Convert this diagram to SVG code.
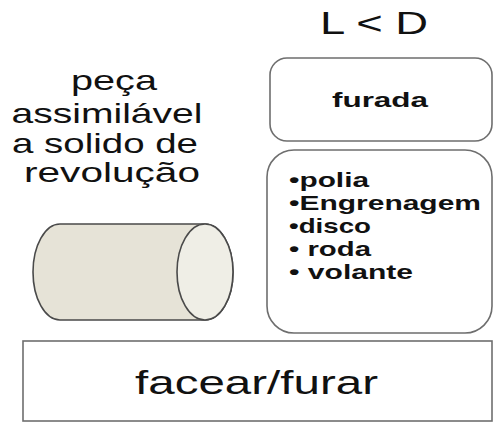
<svg xmlns="http://www.w3.org/2000/svg" width="493" height="422" viewBox="0 0 493 422">
  <style>
    .box { fill: #ffffff; stroke: #6e6e6e; stroke-width: 1.6; }
    .t { font-family: "Liberation Sans", Arial, sans-serif; fill: #111111; }
    .b { font-weight: bold; }
    .mid { text-anchor: middle; }
    .solid { stroke: #4a4a4a; stroke-width: 1.6; }
  </style>
  <rect width="493" height="422" fill="#ffffff"/>

  <!-- heading -->
  <g id="title">
    <text class="t" x="320" y="34" font-size="31" textLength="108" lengthAdjust="spacingAndGlyphs">L &lt; D</text>
  </g>

  <!-- caption on the left -->
  <g id="caption">
    <text class="t mid" x="114" y="90" font-size="28" textLength="86" lengthAdjust="spacingAndGlyphs">peça</text>
    <text class="t mid" x="107" y="123" font-size="28" textLength="191" lengthAdjust="spacingAndGlyphs">assimilável</text>
    <text class="t mid" x="105" y="153" font-size="28" textLength="186" lengthAdjust="spacingAndGlyphs">a solido de</text>
    <text class="t mid" x="112" y="182" font-size="28" textLength="176" lengthAdjust="spacingAndGlyphs">revolução</text>
  </g>

  <!-- solid of revolution -->
  <g id="cylinder">
    <path class="solid" fill="#e6e3d7" d="M60,224 L205,224 A28,48 0 0 1 205,320 L60,320 A27,48 0 0 1 60,224 Z"/>
    <ellipse class="solid" fill="#efeee6" cx="205" cy="272" rx="28" ry="48"/>
  </g>

  <!-- "furada" box -->
  <g id="furada">
    <rect class="box" x="270" y="58" width="222" height="83" rx="17" ry="17"/>
    <text class="t b" x="332" y="107" font-size="21" textLength="96" lengthAdjust="spacingAndGlyphs">furada</text>
  </g>

  <!-- list of parts -->
  <g id="examples">
    <rect class="box" x="267" y="150" width="225" height="183" rx="27" ry="27"/>
    <text class="t b" x="289" y="187" font-size="21" textLength="80" lengthAdjust="spacingAndGlyphs">•polia</text>
    <text class="t b" x="289" y="210" font-size="21" textLength="192" lengthAdjust="spacingAndGlyphs">•Engrenagem</text>
    <text class="t b" x="289" y="233" font-size="21" textLength="82" lengthAdjust="spacingAndGlyphs">•disco</text>
    <text class="t b" x="289" y="256" font-size="21" textLength="82" lengthAdjust="spacingAndGlyphs">• roda</text>
    <text class="t b" x="289" y="279" font-size="21" textLength="124" lengthAdjust="spacingAndGlyphs">• volante</text>
  </g>

  <!-- operation box -->
  <g id="operation">
    <rect class="box" x="23" y="341" width="469" height="80"/>
    <text class="t" x="135" y="394" font-size="34" textLength="243" lengthAdjust="spacingAndGlyphs">facear/furar</text>
  </g>

  <g id="connectors"/>
</svg>
